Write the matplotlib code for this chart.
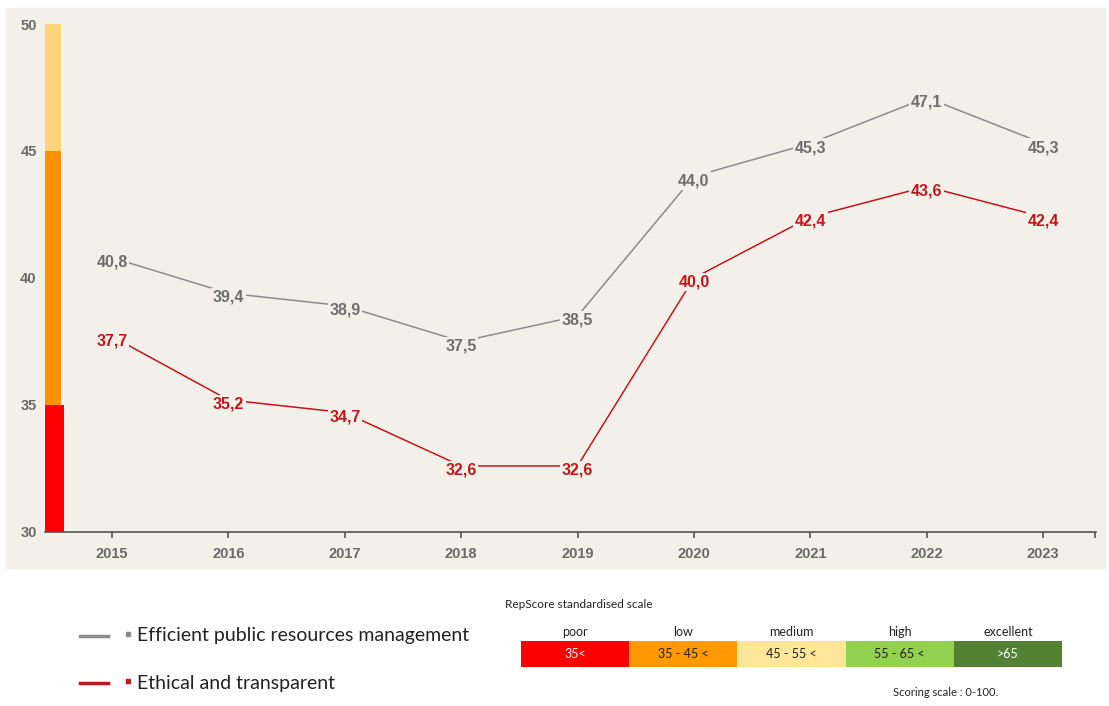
import matplotlib.pyplot as plt
from matplotlib.lines import Line2D
from matplotlib.patches import Rectangle

# scores per jaar
years = [2015, 2016, 2017, 2018, 2019, 2020, 2021, 2022, 2023]
efficient = [40.8, 39.4, 38.9, 37.5, 38.5, 44.0, 45.3, 47.1, 45.3]
ethical = [37.7, 35.2, 34.7, 32.6, 32.6, 40.0, 42.4, 43.6, 42.4]
series_names = ["Efficient public resources management", "Ethical and transparent"]

# gekleurde balk langs de y-as (ondergrens, bovengrens, kleur)
band_low = [30, 35, 45]
band_high = [35, 45, 50]
band_colors = ["#FF0000", "#FF9000", "#FFD47A"]

# RepScore schaal
scale_names = ["poor", "low", "medium", "high", "excellent"]
scale_ranges = ["35<", "35 - 45 <", "45 - 55 <", "55 - 65 <", ">65"]
scale_colors = ["#FF0000", "#FF9900", "#FFE699", "#92D050", "#548235"]
scale_text = ["white", "#222222", "#222222", "#222222", "white"]

bg = "#F2F0E9"
grey = "#8C8C8C"
red = "#C3161C"
W, H = 1109, 706

fig = plt.figure(figsize=[W / 100, H / 100], dpi=100)
fig.add_artist(Rectangle((6 / W, 1 - 568 / H), 1099 / W, 560 / H,
                         transform=fig.transFigure, color=bg, zorder=0))

ax = fig.add_axes([45 / W, 1 - 532 / H, 1051 / W, 508 / H])
ax.set_facecolor(bg)
ax.set_xlim(2014.424, 2023.455)
ax.set_ylim(30, 50)

# y-as balk
for lo, hi, c in zip(band_low, band_high, band_colors):
    w = 0.165 if lo == 30 else 0.14
    ax.bar(2014.424, hi - lo, bottom=lo, width=w, align="edge", color=c, zorder=2)

ax.plot(years, efficient, color=grey, lw=1.1, zorder=3)
ax.plot(years, ethical, color=red, lw=1.1, zorder=3)


def label_points(values, color):
    for x, y in zip(years, values):
        ax.annotate(("%.1f" % y).replace(".", ","), (x, y), xytext=(0, -3),
                    textcoords="offset points", ha="center", va="center",
                    fontsize=11.5, fontweight="bold", color=color,
                    family="Liberation Sans", zorder=4,
                    bbox=dict(boxstyle="square,pad=0.1", fc=bg, ec="none"))


label_points(efficient, "#6E6E6E")
label_points(ethical, red)

for s in ["top", "right", "left"]:
    ax.spines[s].set_visible(False)
ax.spines["bottom"].set_color("#555555")
ax.spines["bottom"].set_linewidth(1.2)
ax.set_xticks(years + [2023.45])
ax.set_xticklabels([str(y) for y in years] + [""])
ax.set_yticks([30, 35, 40, 45, 50])
ax.tick_params(axis="x", length=4, width=1.2, color="#555555", pad=7)
ax.tick_params(axis="y", length=0, pad=6)
for lbl in ax.get_xticklabels() + ax.get_yticklabels():
    lbl.set_family("Liberation Sans")
    lbl.set_fontweight("bold")
    lbl.set_fontsize(10.5)
    lbl.set_color("#6A6A6A")

# legenda onder de grafiek
for name, c, ypix in zip(series_names, [grey, red], [636, 683]):
    yf = 1 - ypix / H
    fig.add_artist(Line2D([80 / W, 108 / W], [yf, yf], transform=fig.transFigure,
                          color=c, lw=2.5))
    fig.add_artist(Line2D([128 / W], [yf + 2 / H], transform=fig.transFigure,
                          marker="s", ms=2.5, color=c, lw=0))
    fig.text(137 / W, yf, name, fontsize=14, va="center", color="#222222",
             family="Lato")

# RepScore schaal als kleine horizontale balk
sx = fig.add_axes([521 / W, 1 - 667 / H, 541 / W, 26 / H])
sx.barh(0, [1] * 5, left=range(5), height=1, color=scale_colors)
sx.set_xlim(0, 5)
sx.set_ylim(-0.5, 0.5)
sx.axis("off")
for i in range(5):
    sx.text(i + 0.5, 0, scale_ranges[i], ha="center", va="center",
            fontsize=9, color=scale_text[i], family="Lato")
    sx.text(i + 0.5, 0.62, scale_names[i], ha="center", va="bottom",
            fontsize=9, color="#222222", family="Lato")

fig.text(505 / W, 1 - 604 / H, "RepScore standardised scale", fontsize=8.5,
         va="center", color="#222222", family="Lato")
fig.text(893 / W, 1 - 693 / H, "Scoring scale : 0-100.", fontsize=8,
         va="center", color="#222222", family="Lato")

plt.savefig("out.png")
